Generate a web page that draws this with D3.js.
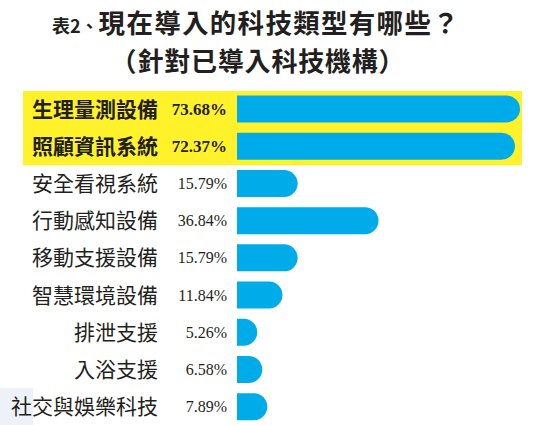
<!DOCTYPE html>
<html><head><meta charset="utf-8">
<script src="https://cdn.jsdelivr.net/npm/d3@7"></script>
<style>body{margin:0;background:#fff}svg{display:block}</style>
</head><body>
<svg id="c" width="536" height="425"></svg>
<script>
const categories = ["生理量測設備","照顧資訊系統","安全看視系統","行動感知設備","移動支援設備","智慧環境設備","排泄支援","入浴支援","社交與娛樂科技"];
const values = [73.68,72.37,15.79,36.84,15.79,11.84,5.26,6.58,7.89];
const valueLabels = ["73.68%","72.37%","15.79%","36.84%","15.79%","11.84%","5.26%","6.58%","7.89%"];
const highlighted = ["生理量測設備","照顧資訊系統"];
const titleLine1Prefix = "表2、";
const titleLine1 = "現在導入的科技類型有哪些？";
const titleLine2 = "（針對已導入科技機構）";

const svg = d3.select("#c");
const x = d3.scaleLinear().domain([0, 73.68]).range([237, 520]);
const y = d3.scalePoint().domain(categories).range([109, 406.7]);
const bh = 27;
const sans = "'Noto Sans CJK TC','Noto Sans CJK SC',sans-serif";
const serif = "'Liberation Serif','DejaVu Serif',serif";
const ink = "#231f20";

svg.append("rect").attr("x",0).attr("y",388).attr("width",33).attr("height",37).attr("fill","#eef2f8");

svg.append("rect")
  .attr("x",23).attr("y", y(highlighted[0]) - 18)
  .attr("width", 499).attr("height", y(highlighted[1]) - y(highlighted[0]) + 37)
  .attr("fill","#fff22a");

const t1 = svg.append("text").attr("x",256).attr("y",33).attr("text-anchor","middle")
  .attr("font-family",sans).attr("font-weight","bold").attr("fill",ink);
t1.append("tspan").attr("font-size",18).text(titleLine1Prefix);
t1.append("tspan").attr("font-size",26.5).attr("letter-spacing",1.3).text(titleLine1);
svg.append("text").attr("x",258).attr("y",71).attr("text-anchor","middle")
  .attr("font-family",sans).attr("font-weight","bold").attr("font-size",26)
  .attr("letter-spacing",0.8).attr("fill",ink).text(titleLine2);

function barPath(d){
  const x0 = x(0), x1 = x(d.v), yc = y(d.c), r = bh/2;
  const y0 = yc - r, y1 = yc + r;
  return `M${x0},${y0}H${x1-r}A${r},${r} 0 0 1 ${x1},${yc}A${r},${r} 0 0 1 ${x1-r},${y1}H${x0}Z`;
}
const data = categories.map((c,i)=>({c, v:values[i], l:valueLabels[i], h: highlighted.includes(c)}));
svg.selectAll("path.bar").data(data).join("path").attr("class","bar")
  .attr("d",barPath).attr("fill","#00abe9");

svg.selectAll("text.cat").data(data).join("text").attr("class","cat")
  .attr("x",158).attr("y",d=>y(d.c)).attr("dy","0.36em").attr("text-anchor","end")
  .attr("font-family",sans).attr("font-size",21)
  .attr("font-weight",d=>d.h?"bold":"normal").attr("fill",ink).text(d=>d.c);

svg.selectAll("text.val").data(data).join("text").attr("class","val")
  .attr("x",227).attr("y",d=>y(d.c)).attr("dy","0.34em").attr("text-anchor","end")
  .attr("font-family",serif).attr("font-size",d=>d.h?17:16)
  .attr("font-weight",d=>d.h?"bold":"normal").attr("fill",ink).text(d=>d.l);
</script>
</body></html>
